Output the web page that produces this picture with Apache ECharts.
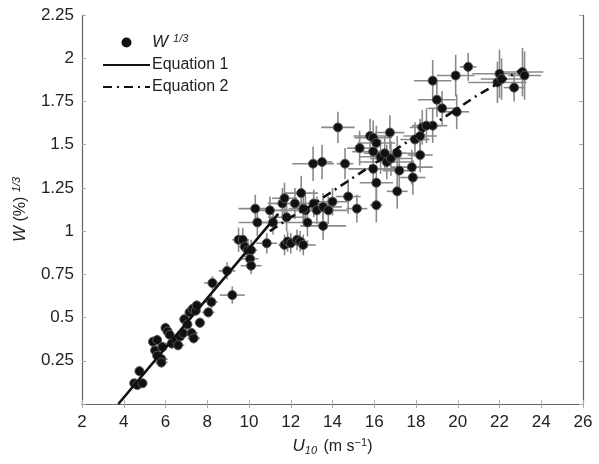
<!DOCTYPE html>
<html>
<head>
<meta charset="utf-8">
<script src="https://cdn.jsdelivr.net/npm/echarts@6/dist/echarts.min.js"></script>
<style>html,body{margin:0;padding:0;background:#fff}#c{width:599px;height:464px}</style>
</head>
<body>
<div id="c"></div>
<script>
// Observations: U10 (m/s), W^(1/3), horizontal error (m/s), vertical error
var uVals = [4.5,4.65,4.9,4.75,5.5,5.6,5.8,5.8,5.4,5.6,5.85,6.0,6.1,6.3,6.5,6.7,6.85,6.9,7.05,7.15,7.3,7.45,7.25,7.35,7.65,8.05,8.2,8.25,9.2,7.5,6.2,6.6,
  8.95,10.05,10.1,9.5,9.7,9.8,9.95,10.1,10.85,10.3,11.0,10.4,11.15,11.6,11.7,11.8,12.2,12.5,12.7,12.8,12.6,13.1,13.25,13.55,13.8,14.0,13.55,14.75,15.17,
  11.7,11.85,12.0,12.3,12.45,12.6,
  13.07,13.5,14.6,14.26,
  15.3,15.8,15.95,16.1,16.75,15.95,16.3,16.5,16.6,16.8,17.1,18.2,15.95,16.1,17.1,16.1,17.2,17.8,17.85,17.95,18.3,18.8,18.2,18.5,
  19.25,19.95,20.5,19.9,18.8,19.0,22.0,21.9,22.1,23.1,23.2,22.7];
var wVals = [0.12,0.11,0.12,0.19,0.31,0.28,0.26,0.24,0.36,0.37,0.33,0.44,0.42,0.35,0.37,0.39,0.41,0.49,0.46,0.53,0.55,0.54,0.41,0.38,0.47,0.53,0.59,0.70,0.63,0.57,0.40,0.34,
  0.77,0.84,0.80,0.95,0.95,0.91,0.89,0.89,0.93,1.13,1.12,1.05,1.05,1.16,1.19,1.08,1.16,1.22,1.12,1.05,1.13,1.16,1.12,1.14,1.12,1.17,1.03,1.20,1.13,
  0.92,0.94,0.93,0.95,0.94,0.92,
  1.39,1.40,1.39,1.60,
  1.48,1.55,1.54,1.51,1.57,1.46,1.43,1.45,1.40,1.42,1.45,1.44,1.36,1.28,1.23,1.15,1.35,1.37,1.31,1.53,1.60,1.61,1.55,1.61,
  1.71,1.69,1.95,1.90,1.87,1.76,1.91,1.86,1.88,1.92,1.90,1.83];
var uErr = [0.2,0.2,0.2,0.2,0.2,0.2,0.3,0.3,0.2,0.2,0.2,0.2,0.2,0.3,0.2,0.2,0.2,0.2,0.2,0.2,0.2,0.2,0.3,0.3,0.2,0.3,0.3,0.4,0.6,0.2,0.2,0.3,
  0.4,0.4,0.5,0.3,0.3,0.3,0.3,0.3,0.5,0.8,0.8,0.9,0.6,0.7,0.6,0.9,1.0,0.8,1.2,1.0,0.7,0.8,0.8,0.9,0.9,0.7,1.1,0.6,0.5,
  0.3,0.3,0.4,0.4,0.4,0.6,
  1.0,0.5,0.4,0.8,
  0.6,0.8,0.9,0.9,0.7,1.0,1.0,1.0,1.3,1.0,0.9,0.6,1.2,0.8,0.5,0.3,0.8,1.0,0.6,0.7,0.6,0.7,0.8,0.7,
  0.7,0.6,0.4,0.9,0.9,0.9,1.3,1.4,1.0,1.0,0.8,0.5];
var wErr = [0.02,0.02,0.02,0.03,0.03,0.03,0.03,0.03,0.03,0.03,0.03,0.03,0.03,0.03,0.03,0.03,0.03,0.03,0.03,0.03,0.03,0.03,0.03,0.03,0.03,0.03,0.04,0.04,0.05,0.03,0.03,0.03,
  0.05,0.06,0.05,0.07,0.07,0.06,0.06,0.06,0.06,0.08,0.08,0.08,0.07,0.09,0.09,0.08,0.09,0.1,0.09,0.08,0.08,0.08,0.08,0.08,0.08,0.08,0.08,0.1,0.08,
  0.06,0.06,0.06,0.06,0.06,0.06,
  0.1,0.1,0.09,0.09,
  0.1,0.1,0.1,0.1,0.1,0.1,0.1,0.1,0.1,0.1,0.1,0.1,0.1,0.1,0.1,0.1,0.1,0.1,0.1,0.1,0.1,0.1,0.1,0.1,
  0.1,0.1,0.08,0.12,0.12,0.1,0.14,0.12,0.12,0.14,0.14,0.08];
// Model curves
var eq1U = [3.74, 11.4];
var eq1W = [0, 1.10];
var eq2U = [11.0,12.0,13.0,14.0,15.0,16.0,17.0,18.0,19.0,20.0,21.0,22.0,23.0];
var eq2W = [1.00,1.08,1.15,1.23,1.31,1.39,1.47,1.55,1.63,1.71,1.79,1.86,1.93];
var xTicks = {min: 2, max: 26, interval: 2};
var yTicks = {min: 0, max: 2.25, interval: 0.25};

var pts = uVals.map(function(u, i){ return [u, wVals[i], uErr[i], wErr[i]]; });
var FONT = 'Liberation Sans';
var chart = echarts.init(document.getElementById('c'), null, {renderer: 'canvas'});
var axisCommon = {
  axisLine: {show: true, lineStyle: {color: '#666', width: 1.2}},
  axisTick: {show: true, inside: true, length: 4, lineStyle: {color: '#aaa'}},
  splitLine: {show: false}
};
chart.setOption({
  animation: false,
  backgroundColor: '#fff',
  grid: {left: 82, right: 16, top: 15, bottom: 60},
  legend: {
    orient: 'vertical', left: 97, top: 28, itemWidth: 47, itemHeight: 10, itemGap: 6,
    data: [
      {name: 'W', itemStyle: {borderWidth: 0, color: '#111'}},
      {name: 'Equation 1', itemStyle: {opacity: 0}},
      {name: 'Equation 2', itemStyle: {opacity: 0}}
    ],
    formatter: function(n){ return n === 'W' ? '{it|W}{sup| 1/3}' : n; },
    textStyle: {fontFamily: FONT, fontSize: 16, color: '#222', padding: [0, 0, 0, -3],
      rich: {it: {fontFamily: FONT, fontStyle: 'italic', fontSize: 17, color: '#222', padding: [0, 2, 0, 0]},
             sup: {fontFamily: FONT, fontStyle: 'italic', fontSize: 11, color: '#222', verticalAlign: 'top', padding: [0, 0, 8, 0]}}}
  },
  xAxis: [
    Object.assign({type: 'value', position: 'bottom', min: xTicks.min, max: xTicks.max, interval: xTicks.interval,
      axisLabel: {fontFamily: FONT, fontSize: 17, color: '#222', margin: 10},
      name: '{u|U}{sub|10}{n| (m s}{sup|−1}{n|)}', nameLocation: 'middle', nameGap: 33,
      nameTextStyle: {rich: {
        u: {fontFamily: FONT, fontStyle: 'italic', fontSize: 17, color: '#222'},
        sub: {fontFamily: FONT, fontStyle: 'italic', fontSize: 11, color: '#222', verticalAlign: 'bottom', padding: [8, 2, 0, 0]},
        n: {fontFamily: FONT, fontSize: 16, color: '#222'},
        sup: {fontFamily: FONT, fontSize: 11, color: '#222', verticalAlign: 'top', padding: [0, 0, 8, 0]}}}
    }, axisCommon),
    Object.assign({type: 'value', position: 'top', min: xTicks.min, max: xTicks.max, interval: xTicks.interval,
      axisLabel: {show: false}}, axisCommon)
  ],
  yAxis: [
    Object.assign({type: 'value', position: 'left', min: yTicks.min, max: yTicks.max, interval: yTicks.interval,
      axisLabel: {fontFamily: FONT, fontSize: 17, color: '#222', margin: 8,
        formatter: function(v){ return v === 0 ? '' : String(v); }},
      name: '{w|W}{n| (%) }{sup|1/3}', nameLocation: 'middle', nameGap: 52, nameRotate: 90,
      nameTextStyle: {rich: {
        w: {fontFamily: FONT, fontStyle: 'italic', fontSize: 17, color: '#222'},
        n: {fontFamily: FONT, fontSize: 16, color: '#222'},
        sup: {fontFamily: FONT, fontStyle: 'italic', fontSize: 11, color: '#222', verticalAlign: 'top', padding: [0, 0, 8, 0]}}}
    }, axisCommon),
    Object.assign({type: 'value', position: 'right', min: yTicks.min, max: yTicks.max, interval: yTicks.interval,
      axisLabel: {show: false}}, axisCommon)
  ],
  series: [
    {
      type: 'custom', name: 'errbars', silent: true, z: 1,
      data: pts,
      renderItem: function(params, api){
        var u = api.value(0), w = api.value(1), du = api.value(2), dw = api.value(3);
        var l = api.coord([u - du, w]), r = api.coord([u + du, w]);
        var t = api.coord([u, w + dw]), b = api.coord([u, w - dw]);
        var st = {stroke: '#8a8a8a', lineWidth: 1.6};
        return {type: 'group', children: [
          {type: 'line', shape: {x1: l[0], y1: l[1], x2: r[0], y2: r[1]}, style: st},
          {type: 'line', shape: {x1: t[0], y1: t[1], x2: b[0], y2: b[1]}, style: st}
        ]};
      },
      encode: {x: 0, y: 1}
    },
    {
      type: 'scatter', name: 'W', z: 3,
      data: pts.map(function(p){ return [p[0], p[1]]; }),
      symbol: 'circle', symbolSize: 9,
      itemStyle: {color: '#111', borderColor: '#555', borderWidth: 1, opacity: 1}
    },
    {
      type: 'line', name: 'Equation 1', z: 4, symbol: 'none',
      data: eq1U.map(function(u, i){ return [u, eq1W[i]]; }),
      lineStyle: {color: '#111', width: 2.6, type: 'solid'},
      itemStyle: {color: '#111'}
    },
    {
      type: 'line', name: 'Equation 2', z: 4, symbol: 'none',
      data: eq2U.map(function(u, i){ return [u, eq2W[i]]; }),
      lineStyle: {color: '#111', width: 2.6, type: [9, 5, 2, 5]},
      itemStyle: {color: '#111'}
    }
  ]
});
</script>
</body>
</html>
